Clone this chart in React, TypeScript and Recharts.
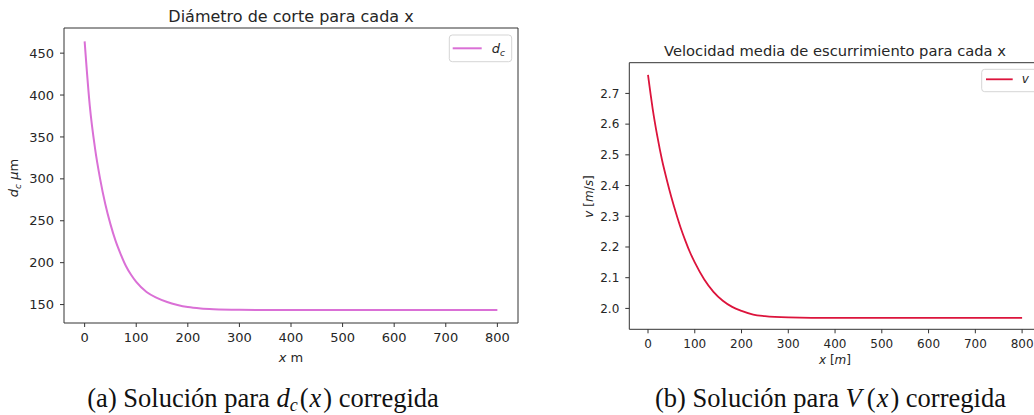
import { LineChart, Line, XAxis, YAxis, ReferenceLine } from "recharts";

// left panel: cut diameter d_c (µm) against x (m)
const xDc = [0, 10, 20, 30, 40, 50, 60, 70, 80, 90, 100, 120, 140, 160, 180, 200, 225, 250, 300, 400, 500, 600, 700, 800];
const dcValues = [464, 387, 337, 300, 270, 246, 226, 210, 196, 185.5, 177, 165, 158, 153, 149.5, 147, 145.3, 144.4, 143.7, 143.4, 143.4, 143.4, 143.4, 143.4];

// right panel: mean runoff velocity v (m/s) against x (m)
const xV = [0, 10, 20, 30, 40, 50, 60, 70, 80, 90, 100, 120, 140, 160, 180, 200, 225, 250, 300, 400, 500, 600, 700, 800];
const vValues = [2.76, 2.65, 2.56, 2.483, 2.42, 2.362, 2.31, 2.262, 2.22, 2.182, 2.15, 2.095, 2.054, 2.025, 2.005, 1.992, 1.98, 1.975, 1.971, 1.969, 1.969, 1.969, 1.969, 1.969];

const xTicks = [0, 100, 200, 300, 400, 500, 600, 700, 800];
const dcTicks = [150, 200, 250, 300, 350, 400, 450];
const vTicks = [2.0, 2.1, 2.2, 2.3, 2.4, 2.5, 2.6, 2.7];

const dcData = xDc.map((x, i) => ({ x, dc: dcValues[i] }));
const vData = xV.map((x, i) => ({ x, v: vValues[i] }));

const FONT = "DejaVu Sans";
const SPINE = "#333";

export default function App() {
  return (
    <div
      style={{
        position: "absolute",
        left: 0,
        top: 0,
        width: 1034,
        height: 415,
        overflow: "hidden",
        background: "#fff",
      }}
    >
      <div style={{ position: "absolute", left: 0, top: 0 }}>
        <LineChart
          width={540}
          height={380}
          data={dcData}
          margin={{ top: 28, right: 22, left: 0, bottom: 0 }}
        >
          <XAxis
            dataKey="x"
            type="number"
            domain={[-40, 840]}
            ticks={xTicks}
            allowDataOverflow
            height={57}
            tickSize={4}
            tickMargin={6}
            stroke={SPINE}
            tick={{ fill: "#262626", fontSize: 13, fontFamily: FONT }}
          />
          <YAxis
            type="number"
            domain={[128, 480]}
            ticks={dcTicks}
            allowDataOverflow
            width={64}
            tickSize={4}
            tickMargin={6}
            stroke={SPINE}
            tick={{ fill: "#262626", fontSize: 13, fontFamily: FONT }}
          />
          <ReferenceLine y={480} stroke={SPINE} />
          <ReferenceLine x={840} stroke={SPINE} />
          <Line
            type="monotone"
            dataKey="dc"
            stroke="#da70d6"
            strokeWidth={2}
            dot={false}
            isAnimationActive={false}
          />
        </LineChart>
      </div>

      <div style={{ position: "absolute", left: 560, top: 0 }}>
        <LineChart
          width={500}
          height={380}
          data={vData}
          margin={{ top: 62.7, right: 19.2, left: 0, bottom: 0 }}
        >
          <XAxis
            dataKey="x"
            type="number"
            domain={[-40, 840]}
            ticks={xTicks}
            allowDataOverflow
            height={50.7}
            tickSize={4}
            tickMargin={6}
            stroke={SPINE}
            tick={{ fill: "#262626", fontSize: 12, fontFamily: FONT }}
          />
          <YAxis
            type="number"
            domain={[1.932, 2.8]}
            ticks={vTicks}
            tickFormatter={(t: number) => t.toFixed(1)}
            allowDataOverflow
            width={69.3}
            tickSize={4}
            tickMargin={6}
            stroke={SPINE}
            tick={{ fill: "#262626", fontSize: 12, fontFamily: FONT }}
          />
          <ReferenceLine y={2.8} stroke={SPINE} />
          <Line
            type="monotone"
            dataKey="v"
            stroke="#dc143c"
            strokeWidth={1.8}
            dot={false}
            isAnimationActive={false}
          />
        </LineChart>
      </div>

      {/* titles, axis labels, legends and captions */}
      <svg
        width={1034}
        height={415}
        style={{ position: "absolute", left: 0, top: 0, pointerEvents: "none" }}
        fontFamily={FONT}
        fill="#262626"
      >
        <text x={291} y={21.5} fontSize={16} textAnchor="middle">
          Diámetro de corte para cada x
        </text>
        <text x={835} y={56} fontSize={14.7} textAnchor="middle">
          Velocidad media de escurrimiento para cada x
        </text>

        <text x={291} y={362} fontSize={13} textAnchor="middle">
          <tspan fontStyle="italic">x</tspan> m
        </text>
        <text x={835} y={364} fontSize={12} textAnchor="middle">
          <tspan fontStyle="italic">x</tspan> [<tspan fontStyle="italic">m</tspan>]
        </text>

        <text transform="translate(17.5,178) rotate(-90)" fontSize={13} textAnchor="middle">
          <tspan fontStyle="italic">d</tspan>
          <tspan fontStyle="italic" fontSize={9} dy={3}>c</tspan>
          <tspan dy={-3}> </tspan>
          <tspan fontStyle="italic">μ</tspan>m
        </text>
        <text transform="translate(592.5,196.5) rotate(-90)" fontSize={12} textAnchor="middle">
          <tspan fontStyle="italic">v</tspan> [<tspan fontStyle="italic">m</tspan>/<tspan fontStyle="italic">s</tspan>]
        </text>

        <rect x={449.3} y={35} width={62.4} height={26.7} rx={3} fill="#fff" fillOpacity={0.8} stroke="#d5d5d5" />
        <line x1={452.7} x2={481.7} y1={48.3} y2={48.3} stroke="#da70d6" strokeWidth={2} />
        <text x={491.7} y={53} fontSize={13}>
          <tspan fontStyle="italic">d</tspan>
          <tspan fontStyle="italic" fontSize={9} dy={3}>c</tspan>
        </text>

        <rect x={981.7} y={69.3} width={62} height={22.4} rx={3} fill="#fff" fillOpacity={0.8} stroke="#d5d5d5" />
        <line x1={986} x2={1012.7} y1={79.3} y2={79.3} stroke="#dc143c" strokeWidth={1.8} />
        <text x={1021.7} y={83.3} fontSize={12} fontStyle="italic">
          v
        </text>

        <g fontFamily="Liberation Serif" fontSize={26.5} fill="#111">
          <text x={87.3} y={406.7}>
            (a) Solución para <tspan fontStyle="italic">d</tspan>
            <tspan fontStyle="italic" fontSize={18} dy={4}>c</tspan>
            <tspan dy={-4} dx={2}>(</tspan>
            <tspan fontStyle="italic" dx={1}>x</tspan>
            <tspan dx={2}>) corregida</tspan>
          </text>
          <text x={655} y={406.7}>
            (b) Solución para <tspan fontStyle="italic">V</tspan>
            <tspan dx={5}>(</tspan>
            <tspan fontStyle="italic" dx={1}>x</tspan>
            <tspan dx={2}>) corregida</tspan>
          </text>
        </g>
      </svg>
    </div>
  );
}
